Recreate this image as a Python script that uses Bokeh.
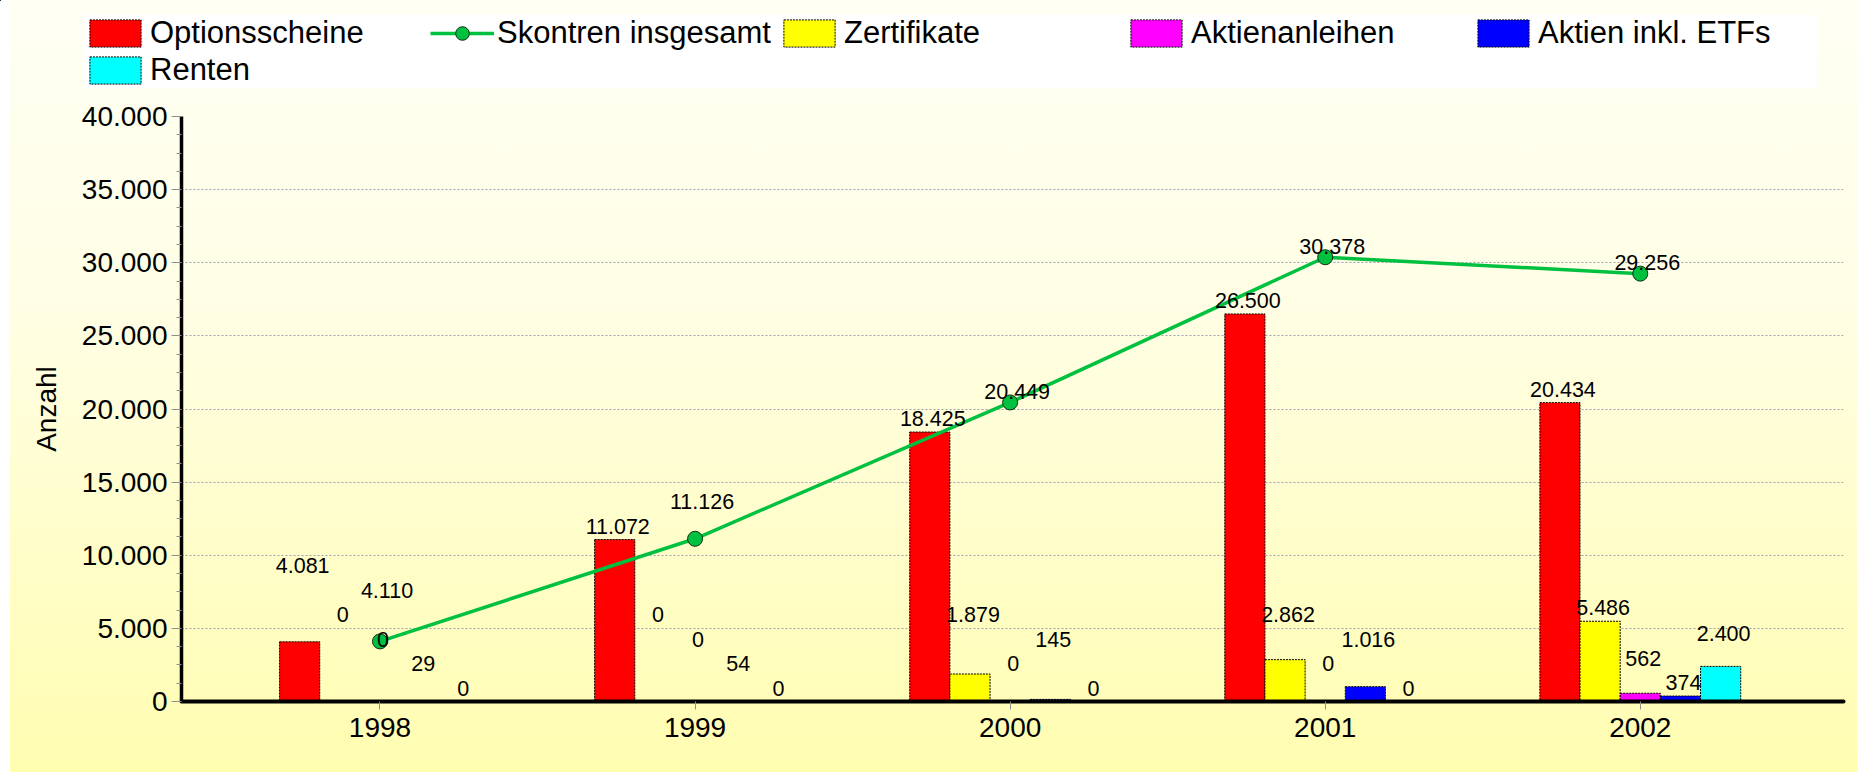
import numpy as np
from bokeh.plotting import figure
from bokeh.layouts import column
from bokeh.models import (ColumnDataSource, Range1d, FixedTicker, Legend, LegendItem)
from bokeh.core.properties import value
from bokeh.embed import file_html
from bokeh.resources import INLINE

# ---------------- data ----------------
years = ["1998", "1999", "2000", "2001", "2002"]
optionsscheine = [4081, 11072, 18425, 26500, 20434]
skontren = [4110, 11126, 20449, 30378, 29256]
zertifikate = [0, 0, 1879, 2862, 5486]
aktienanleihen = [0, 0, 0, 0, 562]
aktien_etf = [29, 54, 145, 1016, 374]
renten = [0, 0, 0, 0, 2400]

y_ticks = [0, 5000, 10000, 15000, 20000, 25000, 30000, 35000, 40000]
y_tick_labels = ["0", "5.000", "10.000", "15.000", "20.000", "25.000", "30.000", "35.000", "40.000"]

# series in legend order: (name, values, kind, color)
series = [
    ("Optionsscheine", optionsscheine, "bar", "#FF0000"),
    ("Skontren insgesamt", skontren, "line", "#00C040"),
    ("Zertifikate", zertifikate, "bar", "#FFFF00"),
    ("Aktienanleihen", aktienanleihen, "bar", "#FF00FF"),
    ("Aktien inkl. ETFs", aktien_etf, "bar", "#0000FF"),
    ("Renten", renten, "bar", "#00FFFF"),
]

FONT = "Liberation Sans"
Y_MIN, Y_MAX = 0, 40000
FRAME_H = 585
W = 1857
H_LEG = 100
H_MAIN = 672
BAR_W = 0.1275

def fmt(v):
    return f"{v:,}".replace(",", ".")

def bar_style(color):
    return dict(fill_color=color, line_color="black", line_width=1, line_dash="2 1")

LINE_STYLE = dict(line_width=3.5)

# ---------------- main chart ----------------
p = figure(width=W, height=H_MAIN, output_backend="svg", toolbar_location=None,
           x_range=Range1d(-0.63, 4.645), y_range=Range1d(Y_MIN, Y_MAX),
           min_border_left=181, min_border_right=W - 1843, min_border_top=16,
           min_border_bottom=H_MAIN - 16 - FRAME_H)
p.background_fill_alpha = 0
p.border_fill_alpha = 0
p.outline_line_color = None
p.frame_align = False

xs = np.arange(len(years))
bar_names = [s for s in series if s[2] == "bar"]
offsets = {}
for k, s in enumerate(bar_names):
    offsets[s[0]] = (k - (len(bar_names) - 1) / 2) * BAR_W

sources = {}
for name, vals, kind, color in series:
    if kind == "bar":
        src = ColumnDataSource(dict(x=xs + offsets[name], top=vals))
        p.vbar(x="x", top="top", width=BAR_W, source=src, **bar_style(color))
    else:
        src = ColumnDataSource(dict(x=xs, y=vals))
        p.line(x="x", y="y", source=src, line_color=color, **LINE_STYLE)
        p.scatter(x="x", y="y", source=src, size=15, fill_color=color,
                  line_color="#103010", line_width=1)
    sources[name] = src

# ---------------- value labels with simple stacking ----------------
upp = (Y_MAX - Y_MIN) / FRAME_H
step = 24.5 * upp
lab_x, lab_y, lab_t, lab_xo = [], [], [], []
for i in range(len(years)):
    entries = []
    for s_idx, (name, vals, kind, color) in enumerate(series):
        v = vals[i]
        if kind == "bar":
            x = i + offsets[name]
            ny = v + 13.5 * upp
            xo = 3
        else:
            x = i
            ny = v + 11 * upp
            xo = 7
        entries.append((v // 60, -s_idx, x, ny, fmt(v), xo))
    entries.sort(key=lambda e: (e[0], e[1]))
    placed = []
    for _, _, x, ny, t, xo in entries:
        y = ny
        while True:
            coll = [py for py in placed if abs(py - y) < step - 1e-6]
            if not coll:
                break
            y = max(coll) + step
        placed.append(y)
        lab_x.append(x); lab_y.append(y); lab_t.append(t); lab_xo.append(xo)

lsrc = ColumnDataSource(dict(x=lab_x, y=lab_y, t=lab_t, xo=lab_xo))
p.text(x="x", y="y", text="t", x_offset="xo", source=lsrc, text_align="center",
       text_baseline="middle", text_font=value(FONT), text_font_size="21.5px",
       text_color="black")

# ---------------- axes ----------------
p.xaxis.ticker = FixedTicker(ticks=list(xs))
p.xaxis.major_label_overrides = {int(i): y for i, y in zip(xs, years)}
p.xaxis.major_label_text_font = FONT
p.xaxis.major_label_text_font_size = "28px"
p.xaxis.major_label_text_color = "black"
p.xaxis.major_label_standoff = 8
p.xaxis.major_tick_out = 8
p.xaxis.major_tick_in = 0
p.xaxis.major_tick_line_color = "#909090"
p.xaxis.minor_tick_line_color = None
p.xaxis.axis_line_width = 4
p.xaxis.axis_line_color = "black"
p.xaxis.axis_line_cap = "round"

minor = [t for t in range(0, 40001, 1250) if t % 5000 != 0]
p.yaxis.ticker = FixedTicker(ticks=y_ticks, minor_ticks=minor)
p.yaxis.major_label_overrides = {t: l for t, l in zip(y_ticks, y_tick_labels)}
p.yaxis.major_label_text_font = FONT
p.yaxis.major_label_text_font_size = "28px"
p.yaxis.major_label_text_color = "black"
p.yaxis.major_label_standoff = 4
p.yaxis.major_tick_out = 10
p.yaxis.major_tick_in = 0
p.yaxis.minor_tick_out = 5
p.yaxis.minor_tick_in = 0
p.yaxis.major_tick_line_color = "#909090"
p.yaxis.minor_tick_line_color = "#909090"
p.yaxis.axis_line_width = 3.5
p.yaxis.axis_line_color = "black"
p.yaxis.axis_label = "Anzahl"
p.yaxis.axis_label_text_font = FONT
p.yaxis.axis_label_text_font_size = "28px"
p.yaxis.axis_label_text_font_style = "normal"
p.yaxis.axis_label_text_color = "black"
p.yaxis.axis_label_standoff = 17

p.xgrid.visible = False
p.ygrid.ticker = FixedTicker(ticks=y_ticks)
p.ygrid.grid_line_color = "#A0A0B4"
p.ygrid.grid_line_dash = "2 2"
p.ygrid.grid_line_width = 1

# ---------------- legend (own strip above the chart) ----------------
# the legend strip shows the same sources, but its ranges keep the data out of view
pl = figure(width=W, height=H_LEG, output_backend="svg", toolbar_location=None,
            x_range=Range1d(100, 101), y_range=Range1d(-2, -1),
            min_border_left=0, min_border_right=0, min_border_top=0, min_border_bottom=0)
pl.axis.visible = False
pl.grid.visible = False
pl.background_fill_alpha = 0
pl.border_fill_alpha = 0
pl.outline_line_color = None
pl.frame_align = False

items = []
for name, vals, kind, color in series:
    src = sources[name]
    if kind == "bar":
        r = pl.vbar(x="x", top="top", width=BAR_W, source=src, **bar_style(color))
        items.append(LegendItem(label=name, renderers=[r]))
    else:
        r1 = pl.line(x="x", y="y", source=src, line_color=color, **LINE_STYLE)
        r2 = pl.scatter(x="x", y="y", source=src, size=13, fill_color=color,
                        line_color="#103010", line_width=1)
        items.append(LegendItem(label=name, renderers=[r1, r2]))

legend = Legend(items=items, location=(83, 12), orientation="horizontal", ncols=5,
                glyph_width=64, glyph_height=34, label_standoff=3, label_width=279,
                spacing=1, padding=2, margin=0,
                background_fill_color="white", background_fill_alpha=1,
                border_line_color=None,
                label_text_font=FONT, label_text_font_size="31px",
                label_text_color="black")
pl.add_layout(legend, "center")

lay = column(pl, p, spacing=0)
lay.styles = {
    "background": "linear-gradient(to right, #FFFFFF 0px, #FFFFFF 10px, transparent 10px), "
                  "linear-gradient(to bottom, #FFFFF4 0%, #FFFEE4 40%, #FFFDB0 100%)"
}

open("out.html", "w").write(file_html(lay, INLINE))
